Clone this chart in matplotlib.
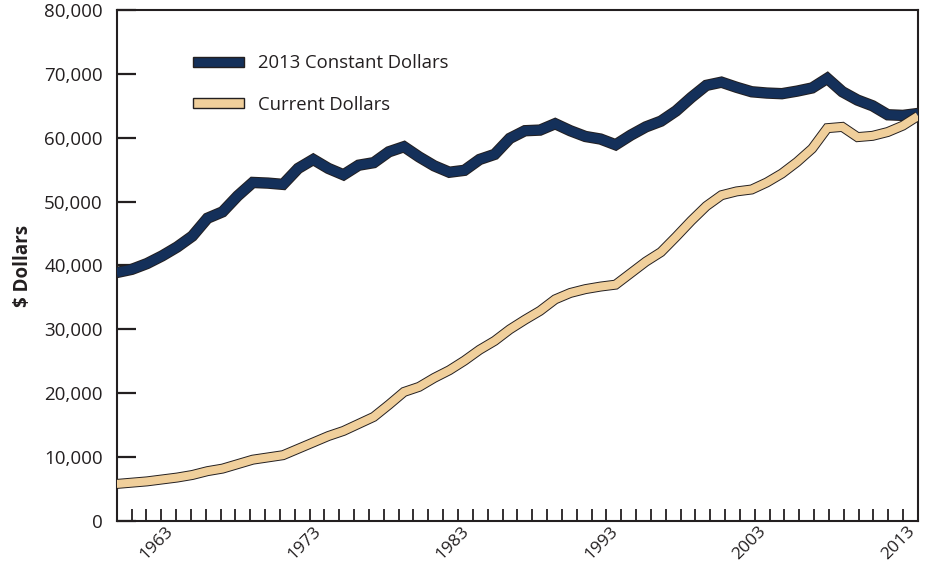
import matplotlib
matplotlib.use('Agg')
import matplotlib.pyplot as plt
import matplotlib.patheffects as pe
from matplotlib.patches import Patch
from matplotlib.ticker import FuncFormatter, MultipleLocator, FixedLocator

plt.rcParams['font.family'] = ['Open Sans', 'DejaVu Sans']

# ---- data ----
years = list(range(1960, 2014))
constant_2013 = [38900, 39400, 40300, 41500, 42900, 44600, 47400, 48400, 50900, 53000,
                 52900, 52700, 55200, 56600, 55200, 54200, 55700, 56100, 57800, 58600,
                 57000, 55600, 54600, 54900, 56600, 57400, 59900, 61100, 61200, 62200,
                 61100, 60200, 59800, 58900, 60400, 61700, 62600, 64200, 66300, 68200,
                 68700, 67900, 67200, 67000, 66900, 67300, 67800, 69300, 67200, 65900,
                 65000, 63600, 63500, 63800]
current = [5800, 6000, 6200, 6500, 6800, 7200, 7800, 8200, 8900, 9600,
           9950, 10300, 11300, 12300, 13300, 14100, 15200, 16300, 18200, 20200,
           21000, 22400, 23600, 25100, 26800, 28200, 30000, 31500, 32900, 34700,
           35700, 36300, 36700, 37000, 38800, 40600, 42100, 44500, 47000, 49300,
           51000, 51600, 51900, 53000, 54400, 56200, 58300, 61500, 61700, 60100,
           60300, 60900, 61900, 63400]
tick_years = [1963, 1973, 1983, 1993, 2003, 2013]
y_ticks = [0, 10000, 20000, 30000, 40000, 50000, 60000, 70000, 80000]
labels = ['2013 Constant Dollars', 'Current Dollars']

navy = '#14305a'
tan = '#f0cf9b'
ink = '#231f20'

fig = plt.figure(figsize=(9.28, 5.69), dpi=100)
ax = fig.add_axes([0.1258, 0.0844, 0.8634, 0.898])
ax.set_xlim(1959, 2013)
ax.set_ylim(0, 80000)

for s in ax.spines.values():
    s.set_color(ink)
    s.set_linewidth(1.5)

ax.xaxis.set_major_locator(FixedLocator(tick_years))
ax.xaxis.set_minor_locator(MultipleLocator(1))
ax.set_xticklabels([str(y) for y in tick_years])
ax.tick_params(axis='x', which='both', direction='in', length=8.5, width=1.3, color=ink, pad=1.5,
               labelsize=12.5, labelcolor=ink)
plt.setp(ax.get_xticklabels(), rotation=45, ha='right', va='top', rotation_mode='default')

ax.yaxis.set_major_locator(FixedLocator(y_ticks))
ax.yaxis.set_major_formatter(FuncFormatter(lambda v, p: f'{int(v):,}'))
ax.tick_params(axis='y', which='both', direction='in', length=13.5, width=1.6, color=ink,
               pad=10, labelsize=13.5, labelcolor=ink)
ax.set_ylabel('$ Dollars', fontsize=13.5, fontweight='bold', color=ink, labelpad=8)

# data axis: points spread evenly across the frame
ax2 = ax.twiny()
ax2.set_xlim(years[0], years[-1])
ax2.set_ylim(0, 80000)
ax2.axis('off')

ax2.plot(years, constant_2013, color=navy, lw=6.8, solid_joinstyle='miter', solid_capstyle='butt',
         path_effects=[pe.Stroke(linewidth=8.2, foreground=ink), pe.Normal()])
ax2.plot(years, current, color=tan, lw=5.8, solid_joinstyle='miter', solid_capstyle='butt',
         path_effects=[pe.Stroke(linewidth=7.2, foreground=ink), pe.Normal()])

handles = [Patch(facecolor=navy, edgecolor=ink, linewidth=1.0),
           Patch(facecolor=tan, edgecolor=ink, linewidth=1.0)]
ax.legend(handles, labels, loc='upper left', bbox_to_anchor=(0.095, 0.913), frameon=False,
          fontsize=13.3, handlelength=2.75, handleheight=0.5, handletextpad=0.8,
          labelspacing=1.25, borderpad=0, borderaxespad=0, labelcolor=ink)

fig.savefig('out.png', dpi=100)
